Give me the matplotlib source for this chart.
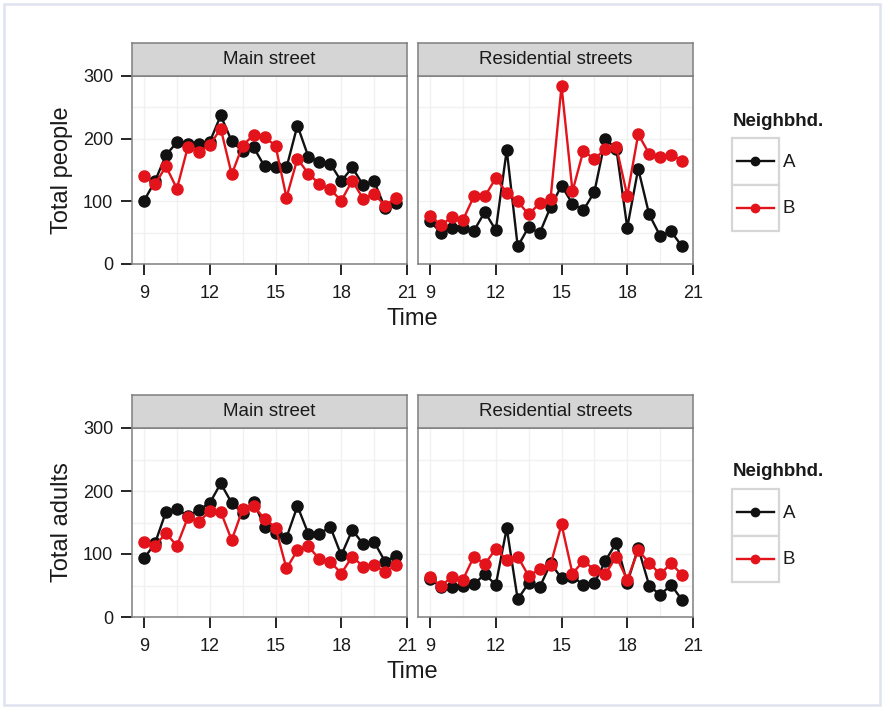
import numpy as np
import matplotlib
matplotlib.use("Agg")
import matplotlib.pyplot as plt
from matplotlib.patches import Rectangle
from matplotlib.lines import Line2D

plt.rcParams['font.family'] = ['Liberation Sans', 'DejaVu Sans']

# ---- data ----
hours = [9, 9.5, 10, 10.5, 11, 11.5, 12, 12.5, 13, 13.5, 14, 14.5,
         15, 15.5, 16, 16.5, 17, 17.5, 18, 18.5, 19, 19.5, 20, 20.5]

people_main_A = [101, 132, 174, 194, 191, 192, 195, 237, 196, 180, 186, 156,
                 154, 154, 221, 171, 163, 160, 132, 154, 126, 132, 89, 97]
people_main_B = [141, 127, 156, 120, 187, 179, 190, 216, 143, 189, 206, 202,
                 189, 106, 168, 144, 128, 119, 101, 133, 104, 112, 93, 106]
people_res_A = [68, 50, 58, 57, 53, 83, 54, 182, 28, 59, 49, 91,
                125, 96, 86, 115, 199, 184, 58, 152, 79, 45, 52, 28]
people_res_B = [77, 62, 75, 70, 108, 108, 137, 114, 100, 79, 97, 104,
                284, 116, 181, 167, 184, 187, 109, 207, 176, 171, 174, 165]

adults_main_A = [93, 117, 167, 172, 160, 170, 181, 212, 181, 165, 183, 143,
                 134, 126, 176, 132, 132, 143, 98, 138, 116, 119, 88, 97]
adults_main_B = [119, 113, 133, 113, 158, 151, 168, 167, 122, 171, 176, 156,
                 142, 77, 106, 112, 92, 88, 69, 96, 80, 82, 72, 82]
adults_res_A = [60, 48, 48, 50, 52, 68, 51, 141, 28, 54, 47, 85,
                62, 64, 51, 54, 89, 118, 54, 110, 50, 35, 51, 27]
adults_res_B = [63, 49, 64, 59, 96, 84, 108, 91, 96, 65, 76, 83,
                147, 69, 89, 75, 68, 96, 59, 106, 86, 68, 85, 67]

panels = ["Main street", "Residential streets"]
groups = ["A", "B"]
ylabels = ["Total people", "Total adults"]

col_A = "#111111"
col_B = "#e3131b"
grid_col = "#f1f1f1"
border_col = "#7f7f7f"
strip_col = "#d5d5d5"

W, H = 882, 707
fig = plt.figure(figsize=(W / 100, H / 100), dpi=100)


def px_axes(x0, y0, x1, y1, **kw):
    return fig.add_axes([x0 / W, 1 - y1 / H, (x1 - x0) / W, (y1 - y0) / H], **kw)


def draw_panel(x0, y0, x1, y1, title, ya, yb, show_y):
    ax = px_axes(x0, y0, x1, y1)
    ax.plot(hours, ya, color=col_A, lw=1.7, marker='o', ms=8, zorder=3)
    ax.plot(hours, yb, color=col_B, lw=1.7, marker='o', ms=8, zorder=4)
    ax.set_xlim(8.45, 21)
    ax.set_ylim(0, 300)
    ax.set_xticks([9, 12, 15, 18, 21])
    ax.set_xticks([10.5, 13.5, 16.5, 19.5], minor=True)
    ax.set_yticks([0, 100, 200, 300])
    ax.set_yticks([50, 150, 250], minor=True)
    ax.grid(True, which='both', color=grid_col, lw=1.0, zorder=0)
    ax.set_axisbelow(True)
    for s in ax.spines.values():
        s.set_color(border_col)
        s.set_linewidth(1.1)
    ax.tick_params(which='major', length=8, width=1.2, color='black',
                   labelsize=13, labelcolor='#1a1a1a')
    ax.tick_params(axis='x', pad=7)
    ax.tick_params(axis='y', pad=5.5)
    ax.tick_params(which='minor', length=0)
    if not show_y:
        ax.tick_params(axis='y', which='both', left=False, labelleft=False)
    # strip on top
    sx = px_axes(x0, y0 - 33, x1, y0)
    sx.set_facecolor(strip_col)
    sx.set_xticks([])
    sx.set_yticks([])
    for s in sx.spines.values():
        s.set_color(border_col)
        s.set_linewidth(1.1)
    sx.text(0.5, 0.5, title, ha='center', va='center', fontsize=13.5,
            color='#1a1a1a', transform=sx.transAxes)
    return ax


def draw_legend(x0, ytitle, ykey):
    lg = px_axes(0, 0, W, H)
    lg.set_xlim(0, W)
    lg.set_ylim(H, 0)
    lg.axis('off')
    lg.text(x0 + 1, ytitle, "Neighbhd.", fontsize=13.5, fontweight='bold',
            ha='left', va='center', color='#1a1a1a')
    for i, (g, c) in enumerate(zip(groups, [col_A, col_B])):
        top = ykey + i * 46.5
        lg.add_patch(Rectangle((x0, top), 46.5, 46.5, facecolor='white',
                               edgecolor='#d6d6d6', lw=1.6))
        cy = top + 23.25
        lg.add_line(Line2D([x0 + 5, x0 + 42], [cy, cy], color=c, lw=1.7))
        lg.plot([x0 + 23.25], [cy], 'o', color=c, ms=6)
        lg.text(x0 + 51, cy + 1, g, fontsize=13.5, ha='left', va='center',
                color='#1a1a1a')


# frame around the figure
fig.patches.append(Rectangle((4 / W, 1 - 705 / H), 876 / W, 701 / H,
                             transform=fig.transFigure, fill=False,
                             edgecolor='#dfe3ef', lw=1.8))

rows = [
    (76, 264, [people_main_A, people_res_A], [people_main_B, people_res_B]),
    (428, 617, [adults_main_A, adults_res_A], [adults_main_B, adults_res_B]),
]
cols = [(132, 407), (418, 693)]

for r, (y0, y1, a_sets, b_sets) in enumerate(rows):
    for c, (x0, x1) in enumerate(cols):
        draw_panel(x0, y0, x1, y1, panels[c], a_sets[c], b_sets[c], c == 0)
    fig.text(62 / W, 1 - ((y0 + y1) / 2) / H, ylabels[r], rotation=90,
             ha='center', va='center', fontsize=17, color='#1a1a1a')
    fig.text(412.5 / W, 1 - (y1 + 55) / H, "Time", ha='center', va='center',
             fontsize=17, color='#1a1a1a')

draw_legend(732, 121, 138)
draw_legend(732, 471, 489)

fig.savefig("out.png", dpi=100, facecolor='white')
